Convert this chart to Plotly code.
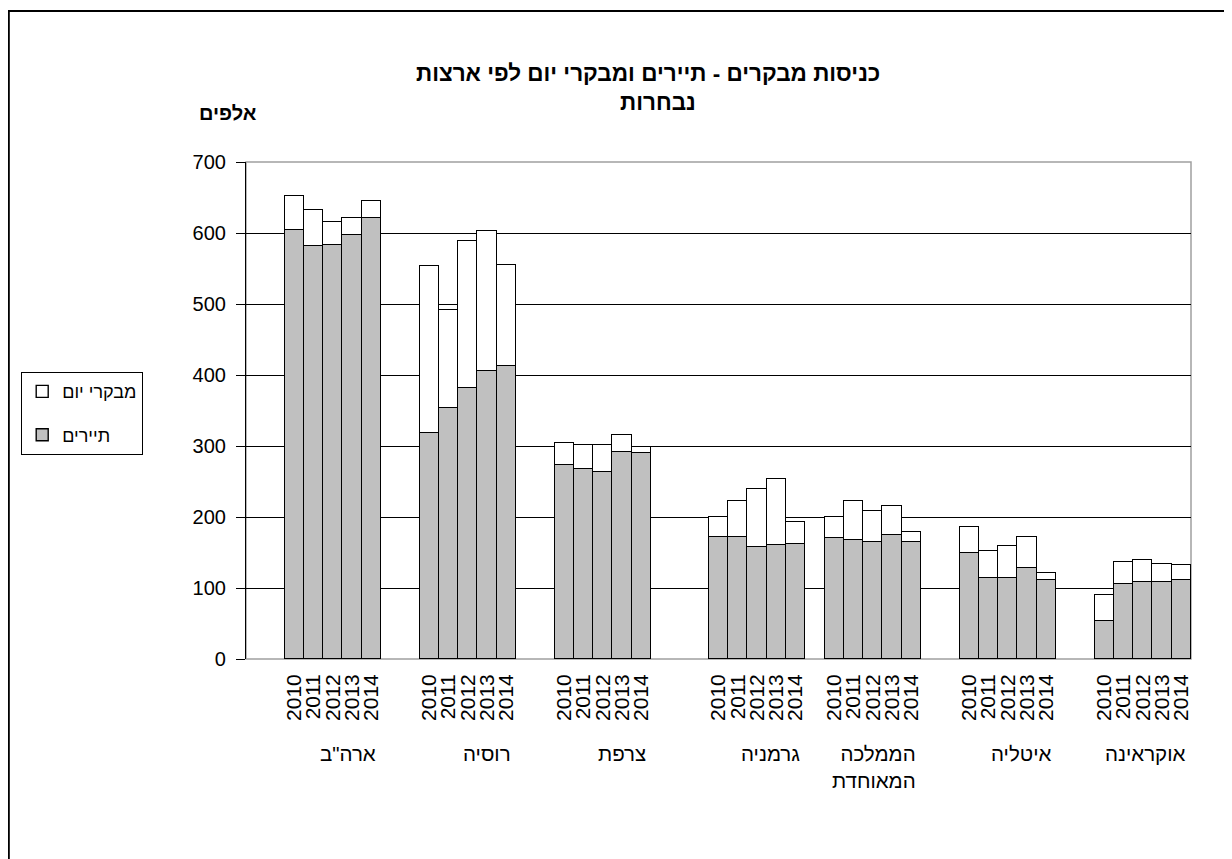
import plotly.graph_objects as go

years = ["2010", "2011", "2012", "2013", "2014"]
countries = ['ארה"ב', "רוסיה", "צרפת", "גרמניה", "הממלכה<br>המאוחדת", "איטליה", "אוקראינה"]

tourists = [
    [604, 581, 583, 597, 621],
    [318, 353, 381, 405, 412],
    [273, 268, 264, 292, 290],
    [172, 172, 158, 160, 162],
    [170, 167, 165, 174, 165],
    [150, 114, 114, 128, 111],
    [54, 106, 109, 109, 111],
]
day_visitors = [
    [48, 52, 33, 24, 24],
    [235, 139, 208, 198, 143],
    [31, 33, 37, 23, 8],
    [28, 50, 82, 94, 31],
    [30, 55, 43, 42, 14],
    [36, 38, 45, 44, 10],
    [36, 31, 30, 25, 21],
]

series_names = ["תיירים", "מבקרי יום"]
title_line1 = "כניסות מבקרים - תיירים ומבקרי יום לפי ארצות"
title_line2 = "נבחרות"
y_unit = "אלפים"

# layout of category slots (gaps between country groups, in bar widths)
lead_gap = 2
group_gaps = [2, 2, 3, 1, 2, 2]
n_years = len(years)

x_pos, x_lab, y_t, y_d = [], [], [], []
group_ends = []
start = lead_gap
for g in range(len(countries)):
    for j in range(n_years):
        x_pos.append(start + j + 0.5)
        x_lab.append(years[j])
        y_t.append(tourists[g][j])
        y_d.append(day_visitors[g][j])
    group_ends.append(start + n_years)
    if g < len(group_gaps):
        start += n_years + group_gaps[g]
x_max = group_ends[-1]

FONT = "Arial, Liberation Sans, sans-serif"

fig = go.Figure()
fig.add_trace(go.Bar(x=x_pos, y=y_t, name=series_names[0], width=1, legendgroup="t", legendrank=2,
                     marker=dict(color="#c0c0c0", line=dict(color="#000", width=1.4))))
fig.add_trace(go.Bar(x=x_pos, y=y_d, name=series_names[1], width=1, legendgroup="d", legendrank=1,
                     marker=dict(color="#ffffff", line=dict(color="#000", width=1.4))))

W, H = 1232, 859
OFF = 8  # page body margin offset
L, R, T, B = 246 - OFF, 1191 - OFF, 162 - OFF, 659 - OFF


def px_x(p):
    return (p - OFF - L) / (R - L)


def px_y(p):
    return (B - (p - OFF)) / (B - T)


annotations = [
    dict(text="<b>%s</b>" % title_line1, x=px_x(648), y=px_y(73), xref="paper", yref="paper",
         showarrow=False, font=dict(size=22.5, family=FONT, color="#000"), xanchor="center", yanchor="middle"),
    dict(text="<b>%s</b>" % title_line2, x=px_x(658), y=px_y(102), xref="paper", yref="paper",
         showarrow=False, font=dict(size=22.5, family=FONT, color="#000"), xanchor="center", yanchor="middle"),
    dict(text="<b>%s</b>" % y_unit, x=px_x(228), y=px_y(113), xref="paper", yref="paper",
         showarrow=False, font=dict(size=20, family=FONT, color="#000"), xanchor="center", yanchor="middle"),
]
for g, name in enumerate(countries):
    annotations.append(dict(text=name, x=group_ends[g], y=px_y(740), xref="x", yref="paper",
                            showarrow=False, xanchor="right", yanchor="top", align="right",
                            xshift=-3, font=dict(size=20.5, family=FONT, color="#000")))

shapes = [
    dict(type="rect", xref="paper", yref="paper", x0=0, x1=1, y0=0, y1=1,
         line=dict(color="#a0a0a0", width=1.5), layer="between"),
    dict(type="rect", xref="paper", yref="paper", x0=px_x(OFF + 0.8), x1=px_x(1227), y0=px_y(880), y1=px_y(11),
         line=dict(color="#000", width=2), layer="above"),
]

fig.update_layout(
    width=W, height=H,
    margin=dict(l=L, r=W - R, t=T, b=H - B, pad=0),
    barmode="stack", bargap=0,
    plot_bgcolor="#fff", paper_bgcolor="#fff",
    font=dict(family=FONT, size=18, color="#000"),
    showlegend=True,
    legend=dict(xref="container", yref="container", x=(21 - OFF) / W, y=1 - (372 - OFF) / H,
                xanchor="left", yanchor="top", traceorder="grouped",
                bgcolor="#fff", bordercolor="#000", borderwidth=1.2,
                font=dict(size=18, family=FONT, color="#000"), tracegroupgap=17),
    xaxis=dict(range=[0, x_max], tickmode="array", tickvals=x_pos, ticktext=x_lab,
               tickangle=-90, ticks="", showgrid=False, zeroline=False, showline=False,
               tickfont=dict(size=21, family=FONT, color="#000"), ticklabelstandoff=10),
    yaxis=dict(range=[0, 700], dtick=100, showgrid=True, gridcolor="#000", gridwidth=1,
               zeroline=False, showline=True, linecolor="#000", linewidth=1.2,
               ticks="outside", ticklen=9, tickcolor="#000", tickwidth=1.2,
               tickfont=dict(size=20, family=FONT, color="#000"), ticklabelstandoff=6),
    annotations=annotations,
    shapes=shapes,
)

fig.write_html("out.html")
